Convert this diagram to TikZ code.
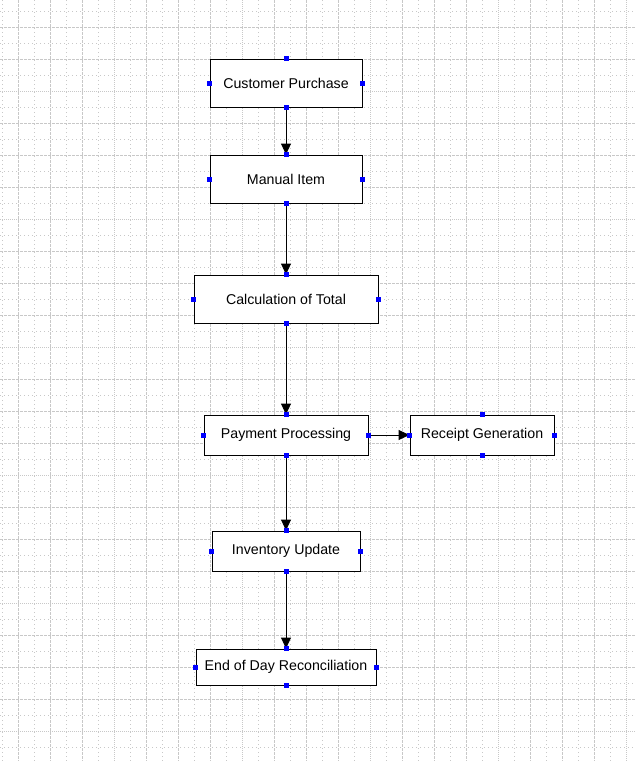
\documentclass[tikz,border=0pt]{standalone}
\usepackage{fontspec}
\setmainfont{Liberation Sans}
\usetikzlibrary{arrows.meta}
\definecolor{gridgray}{RGB}{200,200,200}
\definecolor{pinblue}{RGB}{0,0,255}
\newcommand{\stepnode}[6]{\node[stepbox, minimum width=#4, minimum height=#5] (#1) at (#2,#3) {#6};}
\newcommand{\drawarrow}{\draw[line width=1pt, -{Triangle[length=11pt,width=10pt]}]}
\newcommand{\drawpins}[1]{
    \foreach \a in {north,south,east,west}{
      \fill[pinblue] (#1.\a) +(-2.5,-2.5) rectangle +(2.5,2.5);
    }
}
\newcommand{\drawgridlines}{
    % minor lines
    \foreach \x in {2,34,...,634}{
    \draw[gridgray, dash pattern=on 1pt off 3pt] (\x,0)--(\x,761);
    }
    \foreach \y in {11,43,...,761}{
      \draw[gridgray, dash pattern=on 1pt off 3pt] (0,\y)--(635,\y);
    }
    % major lines
    \foreach \k in {0,...,6}{
      \draw[gridgray, dash pattern=on 1pt off 1pt] (-14+128*\k,0)--(-14+128*\k,761);
      \draw[gridgray, dash pattern=on 1pt off 1pt] (0,-37+128*\k)--(635,-37+128*\k);
      \foreach \j in {1,2,3}{
        \draw[gridgray, dash pattern=on 3pt off 1pt] (-14+128*\k+32*\j,0)--(-14+128*\k+32*\j,761);
        \draw[gridgray, dash pattern=on 3pt off 1pt] (0,-37+128*\k+32*\j)--(635,-37+128*\k+32*\j);
      }
    }
}
\tikzset{stepbox/.style={draw, fill=white, line width=1pt, inner sep=0pt, font=\fontsize{14.2}{16}\selectfont}}

\begin{document}
\begin{tikzpicture}[x=1pt,y=-1pt]
\useasboundingbox (0,0) rectangle (635,761);
\begin{scope}
\clip (0,0) rectangle (635,761);
\drawgridlines
\end{scope}
\stepnode{cp}{286}{83}{152}{48}{Customer Purchase}
\stepnode{mi}{286}{179}{152}{48}{Manual Item}
\stepnode{ct}{286}{299}{184}{48}{Calculation of Total}
\stepnode{pp}{286}{435}{164}{40}{Payment Processing}
\stepnode{rg}{482}{435}{144}{40}{Receipt Generation}
\stepnode{iu}{286}{551}{148}{40}{Inventory Update}
\stepnode{ed}{286}{667}{180}{36}{End of Day Reconciliation}
\drawarrow (cp.south)--(mi.north);
\drawarrow (mi.south)--(ct.north);
\drawarrow (ct.south)--(pp.north);
\drawarrow (pp.east)--(rg.west);
\drawarrow (pp.south)--(iu.north);
\drawarrow (iu.south)--(ed.north);
\foreach \n in {cp,mi,ct,pp,rg,iu,ed}{\drawpins{\n}}
\end{tikzpicture}
\end{document}
